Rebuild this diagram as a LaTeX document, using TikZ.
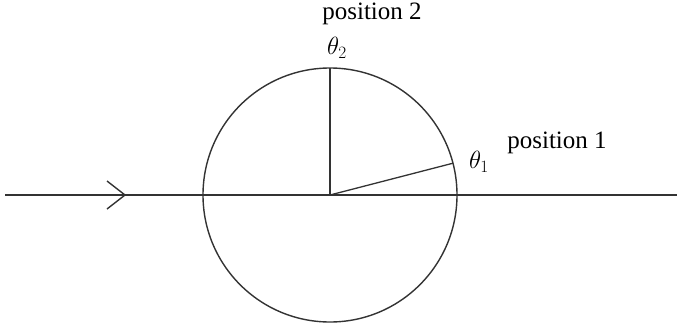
\documentclass[tikz,border=0pt]{standalone}
\usepackage{fontspec}
\setmainfont{Liberation Serif}
\usetikzlibrary{calc}
\begin{document}
\begin{tikzpicture}[x=1pt,y=-1pt,
  lbl/.style={inner sep=0pt,font=\fontsize{25}{29}\selectfont},
  sym/.style={inner sep=0pt,font=\fontsize{27}{31}\selectfont},
  ln/.style={line width=1.7pt,draw=black!80}]
\useasboundingbox (0,0) rectangle (677,325);
\coordinate (O) at (330,195);
\coordinate (L) at (5,195);
\coordinate (R) at (677,195);
\coordinate (T) at (330,68);
\coordinate (P) at ($(O)+(-14.5:127)$);
\draw[ln] (L) -- (R);
\draw[ln,line width=1.4pt] (O) circle (127);
\draw[ln] (O) -- (T);
\draw[ln,line width=1.3pt] (O) -- (P);
\coordinate (A1) at (107,181);
\coordinate (A2) at (125,195);
\coordinate (A3) at (107,209);
\draw[ln,line width=1.4pt] (A1) -- (A2) -- (A3);
\node[lbl] (p2) at (372,14) {position 2};
\node[sym] (t2) at (337,48) {$\theta_2$};
\node[sym] (t1) at (479,162) {$\theta_1$};
\node[lbl] (p1) at (557,143) {position 1};
\end{tikzpicture}
\end{document}
